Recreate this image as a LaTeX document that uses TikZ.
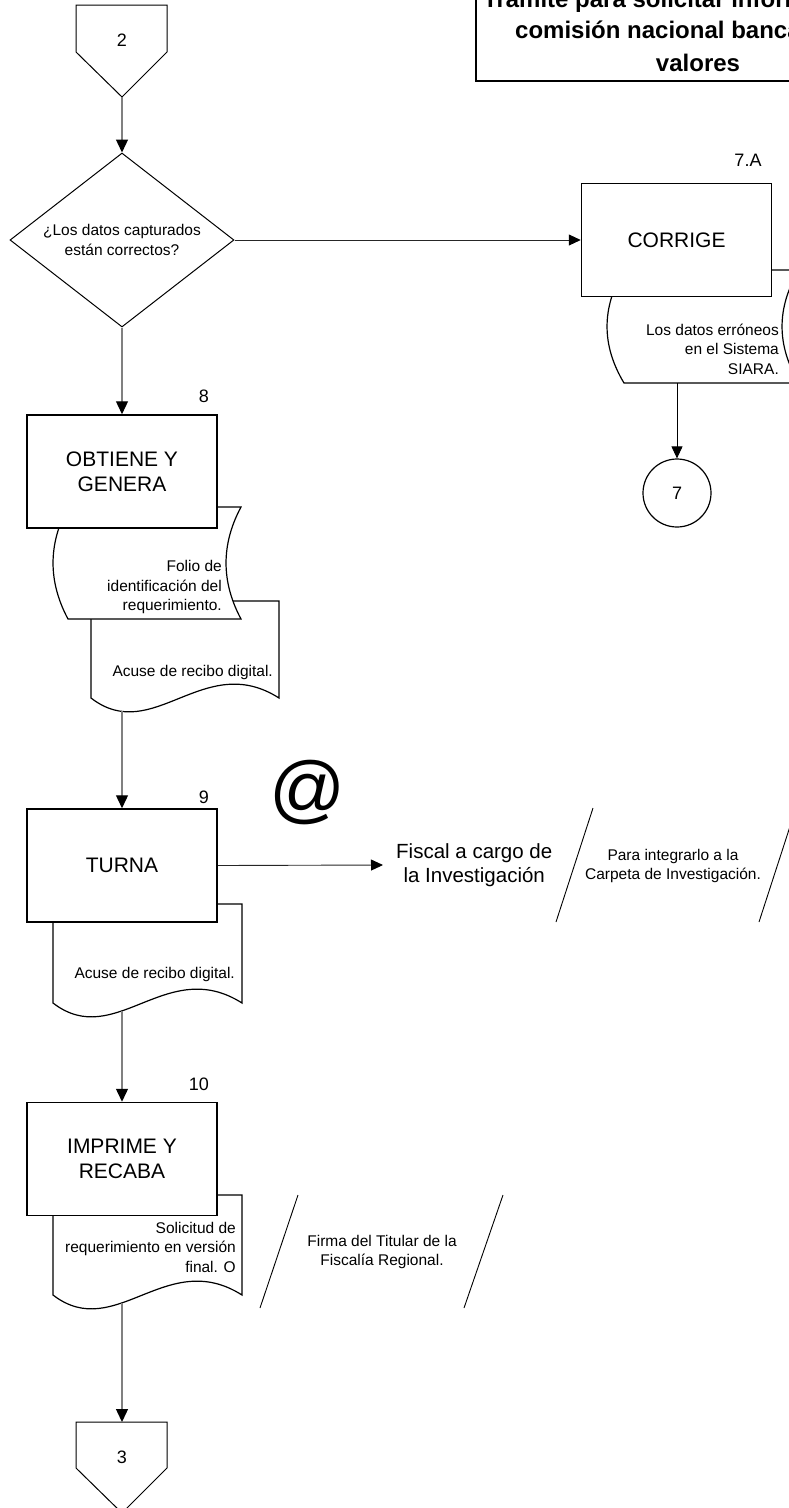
\documentclass[tikz,border=0pt]{standalone}
\usepackage{fontspec}
\setmainfont{Liberation Sans}
\usetikzlibrary{shapes.geometric,arrows.meta}

% sheet with a wavy lower edge: left, right, top, base line
\newcommand{\wavedoc}[4]{%
  \draw[docline] (#1,#3) -- (#2,#3) -- (#2,#4)
    .. controls ({#2-0.4*(#2-#1)},{#4-48}) and ({#1+0.33*(#2-#1)},{#4+48}) .. (#1,#4) -- cycle;}

% stored data sheet with curved sides: left, right, top, bottom, bulge
\newcommand{\storedoc}[5]{%
  \draw[docline] (#1,#3) -- (#2,#3)
    .. controls ({#2-1.33*#5},{#3+(#4-#3)/3}) and ({#2-1.33*#5},{#4-(#4-#3)/3}) .. (#2,#4)
    -- (#1,#4)
    .. controls ({#1-1.33*#5},{#4-(#4-#3)/3}) and ({#1-1.33*#5},{#3+(#4-#3)/3}) .. cycle;}

\begin{document}
\begin{tikzpicture}[x=1pt, y=-1pt,
  proc/.style={draw, line width=1.5pt, fill=white, minimum width=190pt, minimum height=113pt, align=center, font=\fontsize{21}{25}\selectfont},
  decide/.style={draw, diamond, line width=1pt, aspect=1.29, minimum width=224pt, minimum height=174pt, inner sep=0pt, align=center, font=\fontsize{15.5}{19.5}\selectfont},
  docline/.style={draw, line width=1.2pt, fill=white},
  note/.style={inner sep=0pt, align=right, anchor=east, font=\fontsize{15.5}{19.5}\selectfont},
  remark/.style={inner sep=0pt, align=center, font=\fontsize{15.5}{19.5}\selectfont},
  stepnum/.style={inner sep=0pt, font=\fontsize{18}{18}\selectfont},
  headline/.style={inner sep=0pt, font=\fontsize{24}{24}\selectfont\bfseries},
  flow/.style={draw=gray, line width=1.3pt, -{Triangle[width=12pt,length=13pt,color=black]}},
  link/.style={draw=black!85, line width=0.9pt, -{Triangle[width=11pt,length=12pt,color=black]}},
  slash/.style={draw, line width=0.9pt}]
\useasboundingbox (0,0) rectangle (788,1508);

% Title frame
\draw[line width=2pt] (476,-20) rectangle (960,81);
\node[headline, anchor=west] (title1) at (483,1) {Trámite para solicitar información a la};
\node[headline, anchor=west] (title2) at (515,32) {comisión nacional bancaria y de};
\node[headline] (title3) at (698,63) {valores};

% Off-page connector 2
\draw[docline, line width=1pt] (76,5) -- (167,5) -- (167,52) -- (122,97) -- (76,52) -- cycle;
\coordinate (off2tip) at (122,97);
\node[stepnum] (off2) at (122,40) {2};

% Decision
\node[decide] (datosok) at (122,240) {¿Los datos capturados\\están correctos?};

% 7.A correction
\storedoc{624}{799}{270}{383}{17}
\node[proc] (corrige) at (676.5,240) {CORRIGE};
\node[stepnum] (n7a) at (748,160) {7.A};
\node[note] (erroneos) at (779,349) {Los datos erróneos\\en el Sistema\\SIARA.};
\coordinate (corrigedoc) at (677,383);
\node[draw, circle, line width=1.2pt, minimum size=68pt, inner sep=0pt, font=\fontsize{18}{18}\selectfont] (conn7) at (677,493) {7};

% 8 obtains and generates
\wavedoc{91}{279}{601}{698}
\storedoc{68}{241}{507}{619}{15}
\node[proc] (obtiene) at (122,471.5) {OBTIENE Y\\GENERA};
\node[stepnum] (n8) at (204,396) {8};
\node[note] (folio) at (222,587) {Folio de\\identificación del\\requerimiento.};
\node[note] (acuse8) at (273,672) {Acuse de recibo digital.};
\coordinate (doc8) at (122,711.4);

% 9 turns over
\wavedoc{53}{242}{904}{1003}
\node[proc] (turna) at (122,865.5) {TURNA};
\node[stepnum] (n9) at (204,797) {9};
\node[font=\fontsize{75}{75}\selectfont, inner sep=0pt] (arroba) at (308,792) {@};
\node[note] (acuse9) at (235,974) {Acuse de recibo digital.};
\coordinate (doc9) at (122,1011);
\node[anchor=west, inner xsep=13pt, inner ysep=0pt, align=center, font=\fontsize{20.5}{24}\selectfont] (fiscal) at (383,865) {Fiscal a cargo de\\la Investigación};
\draw[slash] (593,808) -- (556,922);
\draw[slash] (796,808) -- (759,922);
\node[remark] (integrar) at (673,866) {Para integrarlo a la\\Carpeta de Investigación.};

% 10 prints and collects
\wavedoc{53}{242}{1195}{1295}
\node[proc] (imprime) at (122,1159) {IMPRIME Y\\RECABA};
\node[stepnum] (n10) at (199,1084) {10};
\node[note] (solicitud) at (236,1247) {Solicitud de\\requerimiento en versión\\final. O};
\coordinate (doc10) at (122,1303);
\draw[slash] (298,1195) -- (260,1308);
\draw[slash] (503,1195) -- (464,1308);
\node[remark] (firma) at (382,1252) {Firma del Titular de la\\Fiscalía Regional.};

% Off-page connector 3
\draw[docline, line width=1pt] (76,1422) -- (167,1422) -- (167,1468) -- (122,1513) -- (76,1468) -- cycle;
\coordinate (off3top) at (122,1422);
\node[stepnum] (off3) at (122,1457) {3};

% Arrows
\draw[flow] (off2tip) -- (datosok.north);
\draw[link] (datosok.east) -- (corrige.west);
\draw[flow] (datosok.south) -- (obtiene.north);
\draw[link, draw=black] (corrigedoc) -- (conn7.north);
\draw[flow] (doc8) -- (turna.north);
\draw[link] (turna.east) -- (fiscal.west);
\draw[flow] (doc9) -- (imprime.north);
\draw[flow] (doc10) -- (off3top);

\end{tikzpicture}
\end{document}
